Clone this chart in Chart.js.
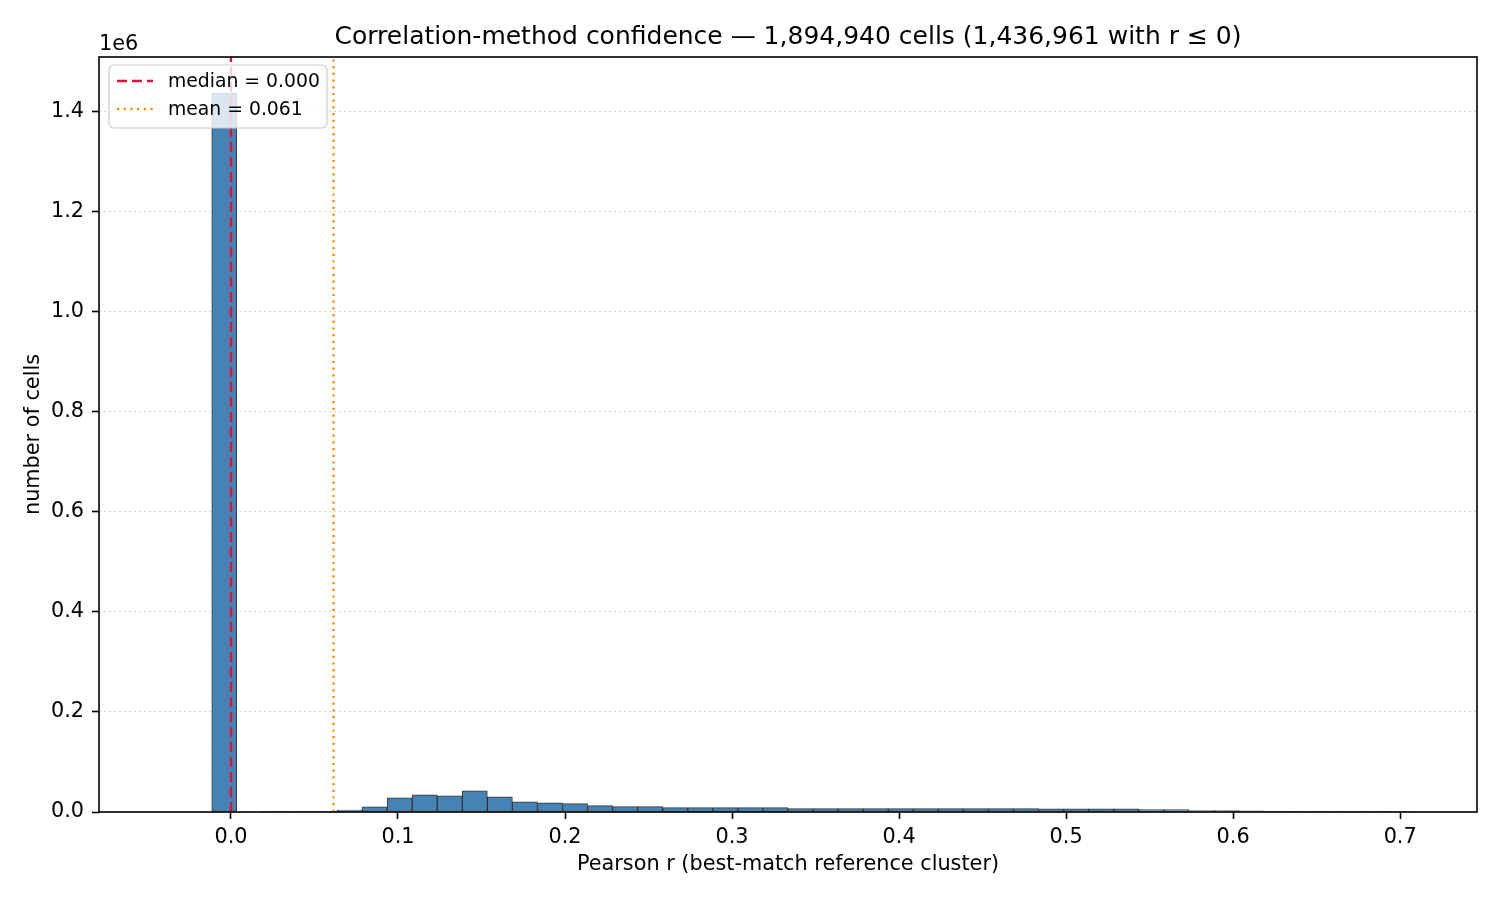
<!DOCTYPE html>
<html>
<head>
<meta charset="utf-8">
<script src="https://cdn.jsdelivr.net/npm/chart.js"></script>
<style>
  html, body { margin: 0; padding: 0; background: #fff; }
  canvas { display: block; }
</style>
</head>
<body>
<canvas id="hist" width="1500" height="900"></canvas>

<script>
    // bin centres of the histogram (bin width 0.015)
    var binCenters = [-0.034, -0.019, -0.004, 0.011, 0.026, 0.041, 0.056, 0.071, 0.086, 0.101,
                      0.116, 0.131, 0.146, 0.161, 0.176, 0.191, 0.206, 0.221, 0.236, 0.251,
                      0.266, 0.281, 0.296, 0.311, 0.326, 0.341, 0.356, 0.371, 0.386, 0.401,
                      0.416, 0.431, 0.446, 0.461, 0.476, 0.491, 0.506, 0.521, 0.536, 0.551,
                      0.566, 0.581, 0.596, 0.611, 0.626, 0.641, 0.656, 0.671, 0.686, 0.701];
    // number of cells per bin
    var cellCounts = [0, 0, 1437400, 0, 300, 300, 400, 4000, 10500, 28500,
                      34500, 32500, 42500, 30500, 20500, 18500, 16600, 12600, 10800, 10800,
                      8800, 8700, 8700, 8600, 8600, 6800, 6800, 6700, 6700, 6700,
                      6700, 6600, 6600, 6600, 6600, 6500, 6500, 6500, 6500, 4700,
                      4600, 2700, 2600, 2500, 700, 600, 500, 100, 80, 50];

    // tick positions
    var xTicks = [0.0, 0.1, 0.2, 0.3, 0.4, 0.5, 0.6, 0.7];
    var yTicks = [0, 200000, 400000, 600000, 800000, 1000000, 1200000, 1400000];

    var medianR = 0.000;
    var meanR = 0.0614;
    var titleText = 'Correlation-method confidence \u2014 1,894,940 cells (1,436,961 with r \u2264 0)';
    var xLabel = 'Pearson r (best-match reference cluster)';
    var yLabel = 'number of cells';

    var xMin = -0.079, xMax = 0.746;
    var yMax = 1509300;

    var histData = binCenters.map(function (c, i) { return { x: c, y: cellCounts[i] }; });

    // matplotlib-like decorations: title, axis labels, offset text, frame, legend
    var decorations = {
        id: 'decorations',
        afterDraw: function (chart) {
            var ctx = chart.ctx;
            var a = chart.chartArea;
            ctx.save();

            // frame
            ctx.strokeStyle = '#000';
            ctx.lineWidth = 1.6;
            ctx.setLineDash([]);
            ctx.strokeRect(a.left, a.top, a.right - a.left, a.bottom - a.top);

            ctx.fillStyle = '#000';
            ctx.textBaseline = 'alphabetic';

            // title
            ctx.font = '25px "DejaVu Sans"';
            ctx.textAlign = 'center';
            ctx.fillText(titleText, (a.left + a.right) / 2, 43.5);

            // x label
            ctx.font = '20.8px "DejaVu Sans"';
            ctx.fillText(xLabel, (a.left + a.right) / 2, 869.5);

            // y label
            ctx.save();
            ctx.translate(38.5, (a.top + a.bottom) / 2);
            ctx.rotate(-Math.PI / 2);
            ctx.fillText(yLabel, 0, 0);
            ctx.restore();

            // offset text
            ctx.textAlign = 'left';
            ctx.fillText('1e6', a.left, 49.5);

            // legend
            var bx = 109, by = 65, bw = 218, bh = 63, r = 5;
            ctx.beginPath();
            ctx.moveTo(bx + r, by);
            ctx.lineTo(bx + bw - r, by);
            ctx.arcTo(bx + bw, by, bx + bw, by + r, r);
            ctx.lineTo(bx + bw, by + bh - r);
            ctx.arcTo(bx + bw, by + bh, bx + bw - r, by + bh, r);
            ctx.lineTo(bx + r, by + bh);
            ctx.arcTo(bx, by + bh, bx, by + bh - r, r);
            ctx.lineTo(bx, by + r);
            ctx.arcTo(bx, by, bx + r, by, r);
            ctx.closePath();
            ctx.fillStyle = 'rgba(255,255,255,0.8)';
            ctx.fill();
            ctx.strokeStyle = '#cccccc';
            ctx.lineWidth = 1.2;
            ctx.stroke();

            var items = [
                { label: 'median = ' + medianR.toFixed(3), color: '#dc143c', dash: [10, 5], y: 81 },
                { label: 'mean = ' + meanR.toFixed(3), color: '#ff8c00', dash: [2.2, 4.5], y: 109 }
            ];
            ctx.font = '18.8px "DejaVu Sans"';
            ctx.textBaseline = 'middle';
            items.forEach(function (it) {
                ctx.beginPath();
                ctx.strokeStyle = it.color;
                ctx.lineWidth = 2.4;
                ctx.setLineDash(it.dash);
                ctx.moveTo(117, it.y);
                ctx.lineTo(153, it.y);
                ctx.stroke();
                ctx.setLineDash([]);
                ctx.fillStyle = '#000';
                ctx.fillText(it.label, 168, it.y + 1);
            });

            ctx.restore();
        }
    };

    Chart.defaults.font.family = '"DejaVu Sans"';
    Chart.defaults.color = '#000';

    var ctx = document.getElementById('hist').getContext('2d');
    var chart = new Chart(ctx, {
        type: 'bar',
        data: {
            datasets: [{
                type: 'line',
                label: 'median',
                data: [{ x: medianR, y: 0 }, { x: medianR, y: yMax }],
                borderColor: '#dc143c',
                borderWidth: 2.4,
                borderDash: [10, 5],
                pointRadius: 0,
                order: 1
            }, {
                type: 'line',
                label: 'mean',
                data: [{ x: meanR, y: 0 }, { x: meanR, y: yMax }],
                borderColor: '#ff8c00',
                borderWidth: 2.4,
                borderDash: [2.2, 4.5],
                pointRadius: 0,
                order: 1
            }, {
                label: 'cells',
                data: histData,
                backgroundColor: '#4682b4',
                borderColor: 'rgba(35,35,35,0.9)',
                borderWidth: 1,
                borderSkipped: false,
                barPercentage: 1,
                categoryPercentage: 1,
                order: 2
            }]
        },
        options: {
            responsive: false,
            animation: false,
            devicePixelRatio: 1,
            events: [],
            layout: { padding: { left: 0, top: 57, right: 23, bottom: 0 } },
            plugins: {
                legend: { display: false },
                title: { display: false },
                tooltip: { enabled: false }
            },
            scales: {
                x: {
                    type: 'linear',
                    min: xMin,
                    max: xMax,
                    offset: false,
                    grid: {
                        display: true,
                        offset: false,
                        drawOnChartArea: false,
                        drawTicks: true,
                        tickLength: 7,
                        tickColor: '#000',
                        tickWidth: 1.6
                    },
                    border: { display: false },
                    ticks: {
                        autoSkip: false,
                        maxRotation: 0,
                        padding: 6,
                        font: { size: 20.8 },
                        callback: function (v) { return v.toFixed(1); }
                    },
                    afterBuildTicks: function (scale) {
                        scale.ticks = xTicks.map(function (v) { return { value: v }; });
                    },
                    afterFit: function (scale) { scale.height = 88; }
                },
                y: {
                    min: 0,
                    max: yMax,
                    grid: {
                        color: 'rgba(0,0,0,0.16)',
                        lineWidth: 1,
                        tickLength: 7,
                        tickColor: '#000',
                        tickWidth: 1.6,
                        tickBorderDash: []
                    },
                    border: { display: false, dash: [2, 3] },
                    ticks: {
                        autoSkip: false,
                        padding: 8,
                        font: { size: 20.8 },
                        callback: function (v) { return (v / 1e6).toFixed(1); }
                    },
                    afterBuildTicks: function (scale) {
                        scale.ticks = yTicks.map(function (v) { return { value: v }; });
                    },
                    afterFit: function (scale) { scale.width = 99; }
                }
            }
        },
        plugins: [decorations]
    });
</script>
</body>
</html>
